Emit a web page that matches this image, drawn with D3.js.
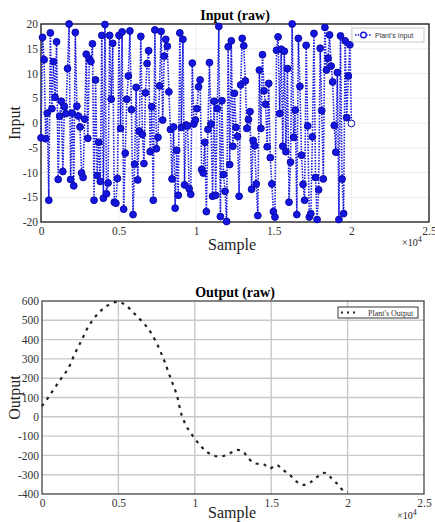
<!DOCTYPE html>
<html>
<head>
<meta charset="utf-8">
<script src="https://cdn.jsdelivr.net/npm/d3@7"></script>
<style>
  body { margin: 0; background: #fff; }
  svg { display: block; }
</style>
</head>
<body>
<div id="chart"></div>
<script>
// input signal (marker values in sample order, 0 .. 2e4)
const inputValues = [
  -3.0, 17.3, 12.8, -3.2, 2.0, -15.6, 18.2, 2.9, 12.4, 5.2, 16.4, -11.4, 1.4, 4.4, -9.8, 3.3, 1.9, 11, 20, -11.4,
  2.0, -12.7, 18.3, 3.4, 1.4, -0.8, -10.1, -11.0, 0.8, 13.9, -3.1, 12.9, 12.4, 16, -15.6, 8.7, -10.6, -3.9, -11.8, 17.7,
  -15.2, 19.9, -14.3, -12.1, 17.7, 4.8, 16.1, -16, -16.2, -11.2, 17.7, -1.1, 18.4, -17.4, -6.1, 4.8, 9.5, 18.6, 2.7, -18.5,
  -8.3, 7.2, -11.5, -1.6, 17.5, -2.3, -8.2, 6.1, 12, 14.6, -5.8, 3.3, -15.6, 18.8, -5.2, -2.9, 7.5, 18.5, 0.6, 13.5,
  16.9, 15.5, 6.3, -1.3, -11.3, -0.8, -17.2, -5.5, -14.6, 18.2, -0.9, 16.9, -12.5, -0.4, -0.6, -13.3, -14.4, 12.1, -0.2, 0.6,
  2.9, 7.3, 8.7, -9.4, -10.1, -3.9, -17.9, -1.3, 12.2, -0.2, -14.8, 4.4, -14.6, 2.9, 19.5, -18.9, 4.5, -10.4, -13.8, -19.9,
  15.4, -8.4, 16.6, -4.7, 6, -0.9, -2.7, -14.8, 7.7, 17.1, 15.6, 8.5, -1.1, 0.7, 2.3, -13.4, -3.5, -4.6, -12.3, -18.7,
  10.7, -1.1, 13.8, 6.5, 3.8, -4.8, 8, -7, -12.3, -17.9, -19, 14.7, 17.4, 1.9, 14.9, -4.7, 14.5, -5.8, 11, -16,
  -7.9, 20, -2.9, 2.6, -18.5, 17.1, 7.4, -6.5, -12.4, -15.6, 15.7, -0.6, -19, -18.3, -2.8, 18.1, -11, -19.5, -13.5, 15.1,
  2.5, -11.3, 19.3, 10.7, 13.1, 17.8, 11.5, 8.3, -0.5, -5.9, 10.2, -19.5, 17.6, -11.3, -18.3, 16.6, 1.1, 9.5, 15.8, -0.1
];

// output response
const outputSamples = [0, 520, 1180, 1720, 2160, 2600, 3030, 3580, 4230, 4990, 5540, 6200, 6850, 7400, 7940, 8380, 8820,
  9140, 9470, 9900, 10340, 10780, 11320, 11870, 12300, 12740, 13170, 13500, 13940, 14490, 14920, 15360, 15790, 16230,
  16670, 17100, 17540, 17980, 18480, 18960, 19390, 19720, 20000];
const outputValues = [55, 113, 190, 251, 329, 398, 467, 527, 574, 596, 574, 522, 467, 398, 303, 208, 113,
  9, -51, -103, -146, -181, -203, -203, -189, -172, -181, -215, -241, -245, -267, -250, -276, -302,
  -336, -353, -341, -313, -290, -319, -353, -383, -392];

const xTicks = [0, 5000, 10000, 15000, 20000, 25000];
const xTickLabels = ['0', '0.5', '1', '1.5', '2', '2.5'];
const inputTicks = [-20, -15, -10, -5, 0, 5, 10, 15, 20];
const outputTicks = [-400, -300, -200, -100, 0, 100, 200, 300, 400, 500, 600];

const width = 435;
const height = 522;
const serif = '"Liberation Serif", "DejaVu Serif", serif';
const sans = '"Liberation Sans", Arial, sans-serif';

const svg = d3.select('#chart').append('svg').attr('width', width).attr('height', height);

function panel(opts) {
  const x = d3.scaleLinear().domain([0, 25000]).range([opts.left, opts.right]);
  const y = d3.scaleLinear().domain(opts.yDomain).range([opts.bottom, opts.top]);
  const g = svg.append('g');

  // grid
  g.selectAll('.gx')
    .data(xTicks.slice(1, -1))
    .enter()
    .append('line')
    .attr('x1', (d) => x(d))
    .attr('x2', (d) => x(d))
    .attr('y1', opts.top)
    .attr('y2', opts.bottom)
    .attr('stroke', opts.gridColor)
    .attr('stroke-width', opts.gridWidth);
  g.selectAll('.gy')
    .data(opts.yTicks.slice(1, -1))
    .enter()
    .append('line')
    .attr('x1', opts.left)
    .attr('x2', opts.right)
    .attr('y1', (d) => y(d))
    .attr('y2', (d) => y(d))
    .attr('stroke', opts.gridColor)
    .attr('stroke-width', opts.gridWidth);

  const xAxis = g
    .append('g')
    .attr('transform', `translate(0,${opts.bottom})`)
    .call(d3.axisBottom(x).tickValues(xTicks).tickFormat((d, i) => xTickLabels[i]).tickSize(0).tickPadding(5));
  const yAxis = g
    .append('g')
    .attr('transform', `translate(${opts.left},0)`)
    .call(d3.axisLeft(y).tickValues(opts.yTicks).tickFormat((d) => String(d)).tickSize(0).tickPadding(3));
  [xAxis, yAxis].forEach((a) => {
    a.select('.domain').remove();
    a.selectAll('text').attr('font-family', serif).attr('font-size', 11.5).attr('fill', '#333');
  });

  // frame
  g.append('rect')
    .attr('x', opts.left)
    .attr('y', opts.top)
    .attr('width', opts.right - opts.left)
    .attr('height', opts.bottom - opts.top)
    .attr('fill', 'none')
    .attr('stroke', opts.frameColor)
    .attr('stroke-width', 1.3);

  g.append('text')
    .attr('x', 235)
    .attr('y', opts.top - 4)
    .attr('text-anchor', 'middle')
    .attr('font-family', serif)
    .attr('font-weight', 'bold')
    .attr('font-size', 14)
    .text(opts.title);
  g.append('text')
    .attr('x', 232)
    .attr('y', opts.bottom + opts.xLabelGap)
    .attr('text-anchor', 'middle')
    .attr('font-family', serif)
    .attr('font-size', 16)
    .attr('fill', '#222')
    .text('Sample');
  g.append('text')
    .attr('transform', `translate(20,${(opts.top + opts.bottom) / 2}) rotate(-90)`)
    .attr('text-anchor', 'middle')
    .attr('font-family', serif)
    .attr('font-size', 16)
    .attr('fill', '#222')
    .text(opts.yLabel);
  const exp = g
    .append('text')
    .attr('x', opts.right - 27)
    .attr('y', opts.bottom + opts.expGap)
    .attr('font-family', serif)
    .attr('font-size', 10)
    .attr('fill', '#222');
  exp.append('tspan').text('\u00d710');
  exp.append('tspan').attr('dy', -4).attr('font-size', 8).text('4');

  return { g, x, y };
}

// ---- top: input ----
const inPanel = panel({
  left: 41, right: 429, top: 24, bottom: 222,
  yDomain: [-20, 20], yTicks: inputTicks,
  gridColor: '#e8e8e8', gridWidth: 0.8, frameColor: '#111',
  title: 'Input (raw)', yLabel: 'Input', xLabelGap: 28, expGap: 24
});
const step = 20000 / (inputValues.length - 1);
const inputData = inputValues.map((v, i) => ({ s: i * step, v }));
const blue = '#1515e0';

inPanel.g
  .append('path')
  .datum(inputData)
  .attr('fill', 'none')
  .attr('stroke', blue)
  .attr('stroke-width', 1.6)
  .attr('stroke-dasharray', '1.5 1.3')
  .attr('d', d3.line().x((d) => inPanel.x(d.s)).y((d) => inPanel.y(d.v)));

inPanel.g
  .selectAll('.pt')
  .data(inputData)
  .enter()
  .append('circle')
  .attr('cx', (d) => inPanel.x(d.s))
  .attr('cy', (d) => inPanel.y(d.v))
  .attr('r', 3.4)
  .attr('fill', (d, i) => (i === inputData.length - 1 ? '#fff' : blue))
  .attr('stroke', '#0a0aa8')
  .attr('stroke-width', 1);

const leg1 = inPanel.g.append('g').attr('transform', 'translate(352,28)');
leg1.append('rect').attr('width', 72).attr('height', 14).attr('fill', '#fff').attr('stroke', '#bbb').attr('stroke-width', 0.8);
leg1.append('line').attr('x1', 3).attr('x2', 20).attr('y1', 7).attr('y2', 7)
  .attr('stroke', blue).attr('stroke-width', 1.6).attr('stroke-dasharray', '1.5 1.3');
leg1.append('circle').attr('cx', 11.5).attr('cy', 7).attr('r', 2.8).attr('fill', '#fff').attr('stroke', blue).attr('stroke-width', 1.4);
leg1.append('text').attr('x', 23).attr('y', 10).attr('font-family', sans).attr('font-size', 7).attr('fill', '#333').text("Plant's Input");

// ---- bottom: output ----
const outPanel = panel({
  left: 42, right: 424, top: 301, bottom: 494,
  yDomain: [-400, 600], yTicks: outputTicks,
  gridColor: '#c9c9c9', gridWidth: 1.4, frameColor: '#444',
  title: 'Output (raw)', yLabel: 'Output', xLabelGap: 24, expGap: 25
});
const outputData = outputSamples.map((s, i) => ({ s, v: outputValues[i] }));

outPanel.g
  .append('path')
  .datum(outputData)
  .attr('fill', 'none')
  .attr('stroke', '#222')
  .attr('stroke-width', 2.2)
  .attr('stroke-dasharray', '3 5')
  .attr('d', d3.line().curve(d3.curveCatmullRom).x((d) => outPanel.x(d.s)).y((d) => outPanel.y(d.v)));

const leg2 = outPanel.g.append('g').attr('transform', 'translate(338,307)');
leg2.append('rect').attr('width', 80).attr('height', 11).attr('fill', '#fff').attr('stroke', '#222').attr('stroke-width', 0.9);
leg2.append('line').attr('x1', 3).attr('x2', 20).attr('y1', 5.5).attr('y2', 5.5)
  .attr('stroke', '#222').attr('stroke-width', 2.2).attr('stroke-dasharray', '2 4');
leg2.append('text').attr('x', 30).attr('y', 8.5).attr('font-family', serif).attr('font-size', 8).attr('fill', '#333').text("Plant's Output");
</script>
</body>
</html>
